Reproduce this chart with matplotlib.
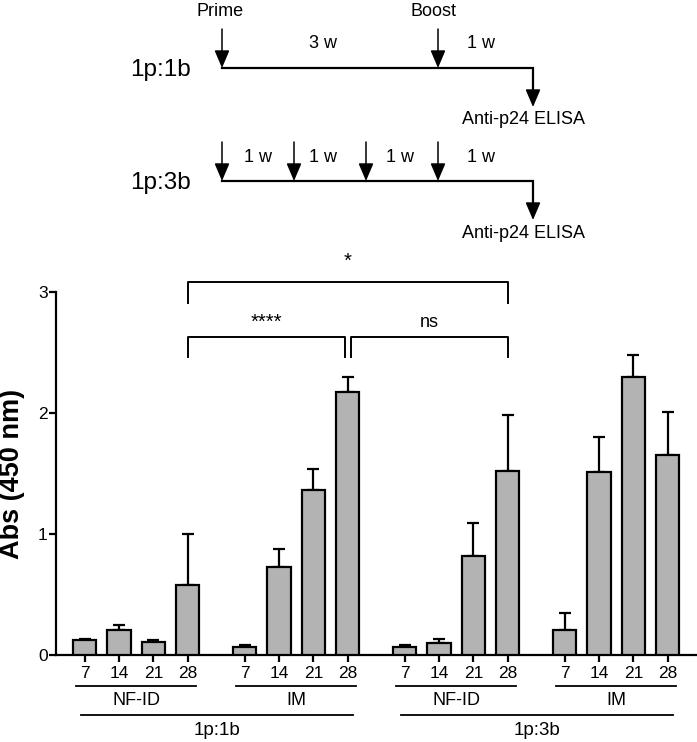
import numpy as np
import matplotlib
matplotlib.use('Agg')
import matplotlib.pyplot as plt
from matplotlib.transforms import blended_transform_factory

plt.rcParams['font.family'] = ['Liberation Sans', 'DejaVu Sans']

# data
days = ['7', '14', '21', '28']
routes = ['NF-ID', 'IM']
regimens = ['1p:1b', '1p:3b']

p1b_nfid_mean = [0.12, 0.21, 0.11, 0.58]
p1b_nfid_err = [0.01, 0.04, 0.01, 0.42]
p1b_im_mean = [0.07, 0.73, 1.36, 2.17]
p1b_im_err = [0.01, 0.15, 0.18, 0.13]
p3b_nfid_mean = [0.07, 0.10, 0.82, 1.52]
p3b_nfid_err = [0.01, 0.03, 0.27, 0.46]
p3b_im_mean = [0.21, 1.51, 2.30, 1.65]
p3b_im_err = [0.14, 0.29, 0.18, 0.36]

means = [p1b_nfid_mean, p1b_im_mean, p3b_nfid_mean, p3b_im_mean]
errs = [p1b_nfid_err, p1b_im_err, p3b_nfid_err, p3b_im_err]

# significance: (left bar, right bar, label, y of bracket)
sig = [((0, 3), (2, 3), '*', 3.08),
       ((0, 3), (1, 3), '****', 2.63),
       ((1, 3), (2, 3), 'ns', 2.63)]

fig = plt.figure(figsize=(6.97, 7.42), dpi=100)

# ---------- schematic (pixel coords) ----------
sax = fig.add_axes([0, 0, 1, 1])
sax.set_xlim(0, 697)
sax.set_ylim(742, 0)
sax.axis('off')

def week_x(w):
    return 222 + 72 * w

elisa_x = 533
arr = dict(arrowstyle='-|>,head_length=0.4,head_width=0.17', mutation_scale=27,
           color='k', lw=1.1, shrinkA=0, shrinkB=0)

def timeline(y, shots, gaps, label):
    sax.plot([week_x(0), elisa_x, elisa_x], [y, y, y + 25], color='k', lw=1.6,
             solid_joinstyle='miter')
    for w in shots:
        sax.annotate('', xy=(week_x(w), y), xytext=(week_x(w), y - 39), arrowprops=arr)
    sax.annotate('', xy=(elisa_x, y + 39), xytext=(elisa_x, y), arrowprops=arr)
    for gx, gt in gaps:
        sax.text(gx, y - 24, gt, ha='center', va='center', fontsize=13)
    sax.text(160, y + 2, label, ha='center', va='center', fontsize=17.5)
    sax.text(524, y + 52, 'Anti-p24 ELISA', ha='center', va='center', fontsize=13)

timeline(68, [0, 3], [(323, '3 w'), (481, '1 w')], '1p:1b')
timeline(181, [0, 1, 2, 3], [(258, '1 w'), (323, '1 w'), (400, '1 w'), (481, '1 w')], '1p:3b')
sax.text(week_x(0) - 2, 11, 'Prime', ha='center', va='center', fontsize=13)
sax.text(week_x(3) - 5, 11, 'Boost', ha='center', va='center', fontsize=13)

# ---------- bar chart ----------
ax = fig.add_axes([56 / 697, 1 - 655 / 742, 641 / 697, 363 / 742])
step = 4.665
width = 0.68

def pos(g, i):
    return g * step + i

for g in range(4):
    x = [pos(g, i) for i in range(4)]
    ax.bar(x, means[g], width=width, color='#b3b3b3', edgecolor='k', lw=1.6, zorder=3)
    ax.errorbar(x, means[g], yerr=[np.zeros(4), errs[g]], fmt='none', ecolor='k',
                elinewidth=1.6, capsize=4.5, capthick=1.6, zorder=2)

ax.set_xlim(-0.837, 17.85)
ax.set_ylim(0, 3)
ax.set_yticks([0, 1, 2, 3])
ax.set_xticks([pos(g, i) for g in range(4) for i in range(4)])
ax.set_xticklabels(days * 4)
for s in ['top', 'right']:
    ax.spines[s].set_visible(False)
ax.spines['left'].set_linewidth(1.6)
ax.spines['bottom'].set_linewidth(1.6)
ax.tick_params(axis='both', direction='out', length=5, width=1.6, labelsize=12.5)
ax.tick_params(axis='y', pad=1)
ax.tick_params(axis='x', pad=3)
ax.set_ylabel('Abs (450 nm)', fontsize=19.5, fontweight='bold', va='center')
ax.yaxis.set_label_coords(-0.0686, 0.5)

# group labels under axis
tr = blended_transform_factory(ax.transData, ax.transAxes)
for g in range(4):
    x0, x1 = pos(g, 0) - 0.25, pos(g, 3) + 0.25
    ax.plot([x0, x1], [-0.0854, -0.0854], color='k', lw=1.3, transform=tr, clip_on=False)
    ax.text((pos(g, 0) + pos(g, 3)) / 2, -0.125, routes[g % 2], ha='center', va='center',
            fontsize=13, transform=tr)
for r in range(2):
    x0, x1 = pos(2 * r, 0) - 0.12, pos(2 * r + 1, 3) + 0.15
    ax.plot([x0, x1], [-0.165, -0.165], color='k', lw=1.3, transform=tr, clip_on=False)
    ax.text((x0 + x1) / 2, -0.207, regimens[r], ha='center', va='center', fontsize=13.5,
            transform=tr)

# significance brackets
for (ga, ia), (gb, ib), lab, yb in sig:
    xa, xb = pos(ga, ia), pos(gb, ib)
    if lab == '****':
        xb -= 0.09
    elif lab == 'ns':
        xa += 0.09
    else:
        xb += 0.02
    ax.plot([xa, xa, xb, xb], [yb - 0.17, yb, yb, yb - 0.17], color='k', lw=1.4,
            clip_on=False)
    ty = yb + 0.17 if lab == '*' else yb + 0.12
    fs = 13 if lab == 'ns' else 14.5
    ax.text((xa + xb) / 2, ty, lab, ha='center', va='center', fontsize=fs)

fig.savefig('out.png', dpi=100)
